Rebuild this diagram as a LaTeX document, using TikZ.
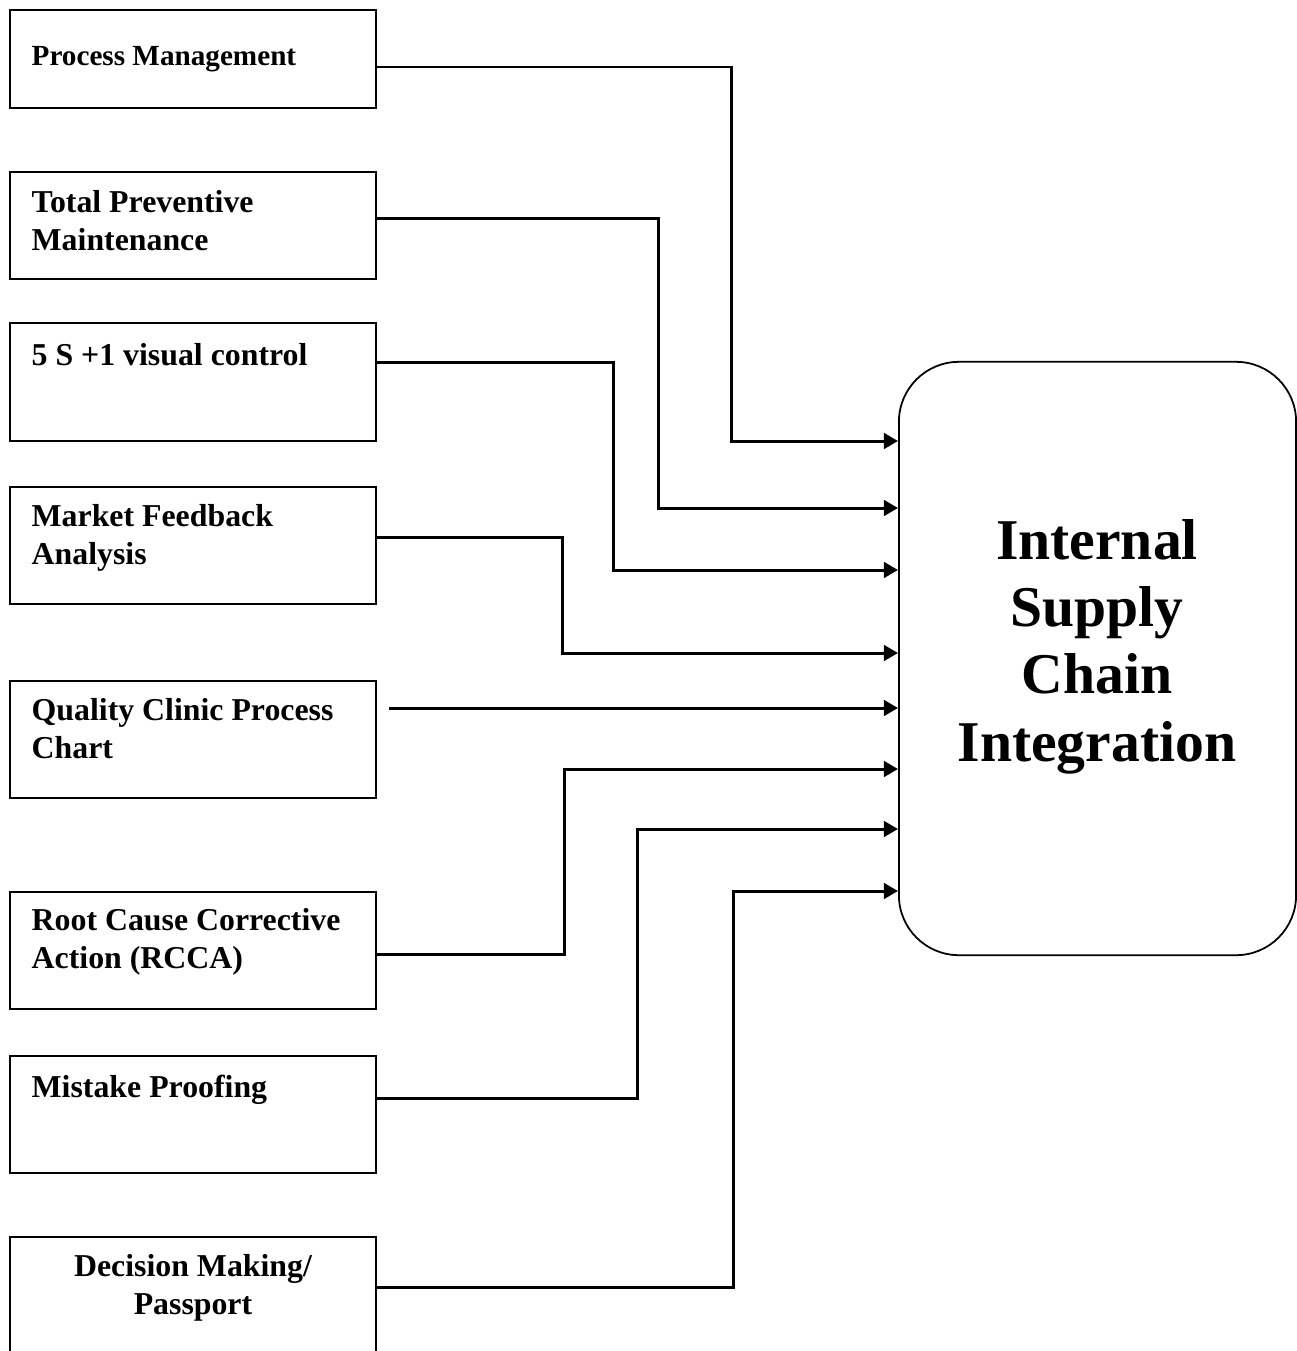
\documentclass[tikz,border=0pt]{standalone}
\usepackage{fontspec}
\setmainfont{Liberation Serif}
\usetikzlibrary{arrows.meta,calc}

\tikzset{
  box/.style={draw, line width=0.5pt, minimum width=3.66cm, inner sep=0pt},
  boxtext/.style={font=\bfseries\fontsize{9.05}{10.53}\selectfont, align=left, inner sep=0pt},
  conn/.style={line width=0.85pt, -{Triangle[length=4pt,width=4.4pt]}},
}

\begin{document}
\begin{tikzpicture}[x=0.01cm, y=-0.01cm]
\useasboundingbox (0,0) rectangle (1297,1351);

% input boxes
\node[box, minimum height=0.98cm] (pm) at (193,59) {};
\node[box, minimum height=1.07cm] (tpm) at (193,225.5) {};
\node[box, minimum height=1.18cm] (fives) at (193,382) {};
\node[box, minimum height=1.17cm] (mfa) at (193,545.5) {};
\node[box, minimum height=1.17cm] (qc) at (193,739.5) {};
\node[box, minimum height=1.17cm] (rcca) at (193,950.5) {};
\node[box, minimum height=1.17cm] (mp) at (193,1114.5) {};
\node[box, minimum height=1.17cm] (dm) at (193,1295.5) {};

% labels (base = last line)
\node[boxtext, font=\bfseries\fontsize{8.3}{10.53}\selectfont, anchor=base west] (pm-t) at (31,65) {Process Management};
\node[boxtext, anchor=base west] (tpm-t) at (31,250) {Total Preventive\\Maintenance};
\node[boxtext, anchor=base west] (fives-t) at (31,365) {5 S +1 visual control};
\node[boxtext, anchor=base west] (mfa-t) at (31,564) {Market Feedback\\Analysis};
\node[boxtext, anchor=base west] (qc-t) at (31,758) {Quality Clinic Process\\Chart};
\node[boxtext, anchor=base west] (rcca-t) at (31,968) {Root Cause Corrective\\Action (RCCA)};
\node[boxtext, anchor=base west] (mp-t) at (31,1097) {Mistake Proofing};
\node[boxtext, align=center, anchor=base] (dm-t) at (193,1314) {Decision Making/\\Passport};

% target
\node[draw, line width=0.5pt, rounded corners=0.6cm, minimum width=3.97cm,
      minimum height=5.93cm] (isci) at (1097.5,658.5) {};
\node[font=\bfseries\fontsize{16.4}{19.07}\selectfont, align=center, anchor=base,
      inner sep=0pt] (isci-t) at (1097,761) {Internal\\Supply\\Chain\\Integration};

% connectors
\foreach \src/\dy/\bx/\ty in {pm/8/731/441, tpm/-7.5/658/508, fives/-20/613/570,
    mfa/-8.5/562/653, rcca/3.5/564/769, mp/-16.5/637/829, dm/-8.5/733/891}
  \draw[conn] ($(\src.east)+(0,\dy)$) -| (\bx,\ty) -- (isci.west |- 0,\ty);

\coordinate (qc-s) at (389,708);
\draw[conn] (qc-s) -- (isci.west |- qc-s);

\end{tikzpicture}
\end{document}
